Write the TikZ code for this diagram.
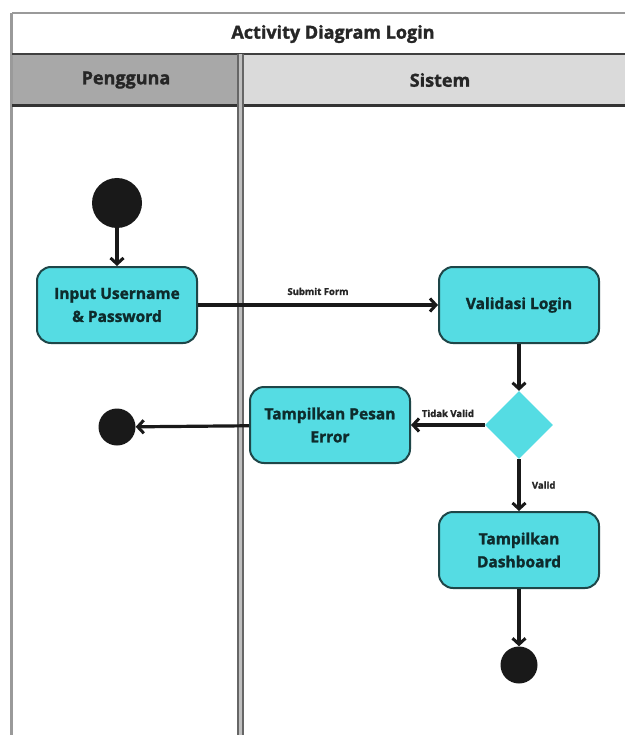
\documentclass[tikz,border=0pt]{standalone}
\usepackage{fontspec}
\setmainfont{Open Sans}[BoldFeatures={FakeBold=1.5}]
\usetikzlibrary{arrows.meta,shapes.geometric}
\definecolor{boxfill}{HTML}{55DCE3}
\definecolor{boxline}{HTML}{1E4648}
\definecolor{boxtext}{HTML}{0E2B2C}
\definecolor{hdrdark}{HTML}{A8A8A8}
\definecolor{hdrlight}{HTML}{DADADA}
\definecolor{frameg}{HTML}{9A9A9A}
\tikzset{
  actbox/.style={draw=boxline, line width=2pt, fill=boxfill, rounded corners=14pt,
    minimum width=160pt, minimum height=76pt, align=center, text=boxtext,
    font=\bfseries\fontsize{15.5}{23}\selectfont, inner sep=2pt},
  dot/.style={circle, fill=black!90, inner sep=0pt},
  flow/.style={draw=black!90, line width=3.2pt, -{Straight Barb[length=6pt,width=13pt,line width=3pt]}},
  lbl/.style={font=\bfseries\fontsize{9.5}{11}\selectfont, text=black!85},
  hdr/.style={font=\bfseries\fontsize{18}{21}\selectfont, text=black!85}
}
\begin{document}
\begin{tikzpicture}[x=1pt,y=-1pt]
\useasboundingbox (0,0) rectangle (625,735);
% frame
\fill[white] (12,13) rectangle (625,735);
\fill[hdrdark] (12,54) rectangle (239,106);
\fill[hdrlight] (243,54) rectangle (625,106);
\draw[frameg, line width=2pt] (12,13) -- (625,13);
\draw[frameg, line width=3pt] (11,13) -- (11,735);
\draw[black!75, line width=2pt] (12,54) -- (625,54);
\draw[black!80, line width=3pt] (12,106) -- (625,106);
% lane divider
\fill[black!25] (237,54) rectangle (244,735);
\draw[black!60, line width=1.2pt] (238,54) -- (238,735);
\draw[black!60, line width=1.2pt] (243,54) -- (243,735);
\node[font=\bfseries\fontsize{18}{21}\selectfont, text=black!85] (title) at (333,34) {Activity Diagram Login};
\node[hdr] (lane1) at (126,80) {Pengguna};
\node[hdr] (lane2) at (440,80) {Sistem};
% nodes
\node[dot, minimum size=50pt] (start) at (117,203) {};
\node[actbox] (input) at (117,305) {Input Username\\\& Password};
\node[actbox] (valid) at (519,305) {Validasi Login};
\node[diamond, fill=boxfill, minimum width=68pt, minimum height=68pt, inner sep=0pt] (dec) at (519,425) {};
\node[actbox] (err) at (330,425) {Tampilkan Pesan\\Error};
\node[dot, minimum size=37pt] (end1) at (117,427) {};
\node[actbox] (dash) at (519,550) {Tampilkan\\Dashboard};
\node[dot, minimum size=37pt] (end2) at (519,665) {};
% flows
\draw[flow] (start) -- (input);
\draw[flow] (input) -- node[lbl, above=5pt] (l1) {Submit Form} (valid);
\draw[flow] (valid) -- (dec);
\draw[flow] (dec) -- node[lbl, above=3pt] (l2) {Tidak Valid} (err);
\draw[flow] (err) -- (end1);
\draw[flow] (dec) -- node[lbl, right=8pt] (l3) {Valid} (dash);
\draw[flow] (dash) -- (end2);
\end{tikzpicture}
\end{document}
